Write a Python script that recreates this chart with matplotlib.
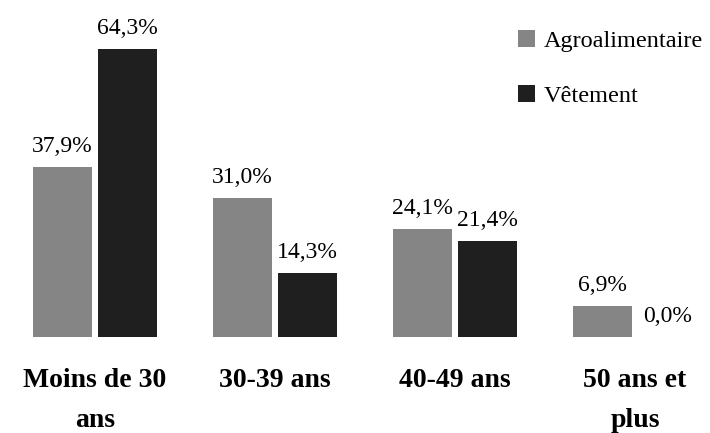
import matplotlib.pyplot as plt
import numpy as np

plt.rcParams['font.family'] = ['Liberation Serif', 'DejaVu Serif']

categories = ['Moins de 30\nans', '30-39 ans', '40-49 ans', '50 ans et\nplus']
agro = [37.9, 31.0, 24.1, 6.9]
vetement = [64.3, 14.3, 21.4, 0.0]
series_names = ['Agroalimentaire', 'Vêtement']

fig = plt.figure(figsize=(7.1, 4.33), dpi=100)
ax = fig.add_axes([0, 96 / 433, 1, 337 / 433])

x = np.arange(len(categories))
w = 0.325
gap = 0.035
b1 = ax.bar(x - w / 2 - gap / 2, agro, w, color='#858585', label=series_names[0])
b2 = ax.bar(x + w / 2 + gap / 2, vetement, w, color='#1f1f1f', label=series_names[1])

for bars, vals in [(b1, agro), (b2, vetement)]:
    for rect, v in zip(bars, vals):
        ax.annotate(('%.1f%%' % v).replace('.', ','),
                    (rect.get_x() + rect.get_width() / 2, v),
                    xytext=(0, 11), textcoords='offset points',
                    ha='center', va='baseline', fontsize=17)

ax.set_xlim(-95 / 180, (710 - 95) / 180)
ax.set_ylim(0, 337 / 4.48)
ax.set_xticks(x)
ax.set_xticklabels(categories, fontsize=20, fontweight='bold', linespacing=1.8)
ax.tick_params(axis='x', length=0, pad=22)
ax.set_yticks([])
for s in ax.spines.values():
    s.set_visible(False)

ax.legend(loc='upper left', bbox_to_anchor=(518 / 710, 1 - 30 / 337), frameon=False,
          fontsize=17.5, handlelength=0.7, handleheight=0.7, handletextpad=0.35,
          labelspacing=1.35, borderpad=0, borderaxespad=0)

fig.savefig('out.png', dpi=100)
